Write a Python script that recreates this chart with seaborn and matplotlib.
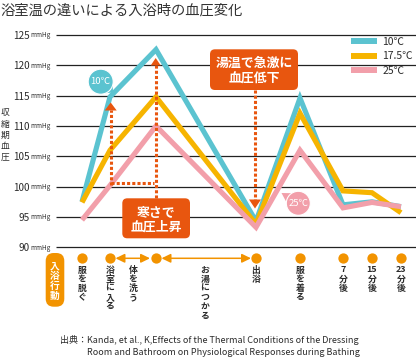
import numpy as np
import pandas as pd
import matplotlib
matplotlib.use("Agg")
import matplotlib.pyplot as plt
import seaborn as sns
from matplotlib.patches import FancyBboxPatch, Circle, Polygon
from matplotlib.lines import Line2D

# ---------------- data ----------------
point_names = ["服を脱ぐ", "浴室に入る", "入湯", "出浴", "服を着る", "7分後", "15分後", "23分後"]
bp_10 = [97.5, 114.8, 122.6, 94.3, 114.6, 97.0, 97.5, 96.7]
bp_175 = [97.4, 106.0, 114.8, 93.8, 112.1, 99.3, 99.0, 95.7]
bp_25 = [94.5, 100.2, 110.0, 93.3, 106.0, 96.5, 97.4, 96.7]
series_labels = ["10℃", "17.5℃", "25℃"]
yticks = [90, 95, 100, 105, 110, 115, 120, 125]
action_labels = ["服を脱ぐ", "浴室に入る", "体を洗う", "お湯につかる", "出浴", "服を着る", "7分後", "15分後", "23分後"]

# layout (x positions along the time axis, in figure pixels)
x_pos = [82, 110, 156, 256, 300, 343, 372, 401]
action_x = [82, 110, 133, 205, 256, 300, 343, 372, 401]

W, H = 416, 359
sns.set_theme(style="white")
plt.rcParams["font.family"] = ["Noto Sans CJK JP", "DejaVu Sans"]

colors = ["#5BC3D0", "#F6B400", "#F29FAA"]
orange = "#E8560F"
dot_orange = "#F29300"
txt = "#2b2b2b"

df = pd.DataFrame({
    "x": x_pos * 3,
    "bp": bp_10 + bp_175 + bp_25,
    "temp": [series_labels[0]] * len(x_pos) + [series_labels[1]] * len(x_pos) + [series_labels[2]] * len(x_pos),
})

fig = plt.figure(figsize=(W / 100, H / 100), dpi=100)
y90, y125 = 247.3, 35.0
ax = fig.add_axes([56 / W, (H - y90) / H, (W - 56) / W, (y90 - y125) / H])
ax.set_xlim(56, W)
ax.set_ylim(90, 125)

for v in yticks:
    ax.axhline(v, color="#222222", lw=0.9, clip_on=False, zorder=1)

sns.lineplot(data=df, x="x", y="bp", hue="temp", hue_order=series_labels,
             palette=colors, linewidth=3.7, ax=ax, legend=False, zorder=3,
             sort=False)
for ln in ax.lines:
    ln.set_solid_joinstyle("miter")
    ln.set_solid_capstyle("butt")

ax.set_yticks(yticks)
ax.set_yticklabels([str(v) for v in yticks], fontsize=7.2, color=txt)
ax.tick_params(axis="y", length=0, pad=18.8)
ax.set_xticks([])
ax.set_xlabel("")
ax.set_ylabel("")
for s in ax.spines.values():
    s.set_visible(False)
ax.patch.set_alpha(0)

# legend
handles = [Line2D([0], [0], color=c, lw=4.3, solid_capstyle="butt") for c in colors]
leg = ax.legend(handles, series_labels, loc="upper left",
                bbox_to_anchor=(351 / W, 1 - 37 / H), bbox_transform=fig.transFigure,
                frameon=False, fontsize=7.5, handlelength=2.5, handletextpad=0.5,
                labelspacing=0.42, borderpad=0, borderaxespad=0)
for t in leg.get_texts():
    t.set_color(txt)

# ---------------- overlay in pixel coordinates ----------------
ov = fig.add_axes([0, 0, 1, 1], zorder=5)
ov.set_xlim(0, W)
ov.set_ylim(H, 0)
ov.axis("off")
ov.patch.set_alpha(0)

# mmHg units
for v in yticks:
    yy = y90 - (v - 90) * (y90 - y125) / 35
    ov.text(51, yy + 0.3, "mmHg", fontsize=4.6, color=txt, ha="right", va="center")

# title
ov.text(0, 11, "浴室温の違いによる入浴時の血圧変化", fontsize=10.3, color="#333333",
        ha="left", va="center")

# vertical y label
for i, ch in enumerate("収縮期血圧"):
    ov.text(5, 113 + i * 11.1, ch, fontsize=6.3, color=txt, ha="center", va="center")

# dotted arrows
dot_kw = dict(color=orange, lw=2.2, linestyle=(0, (1, 0.7)), solid_capstyle="butt")
ov.plot([110.7, 110.7], [185, 110], **dot_kw)
ov.plot([110.7, 154], [183.3, 183.3], **dot_kw)
ov.plot([155.7, 155.7], [198, 65], **dot_kw)
ov.plot([255, 255], [90, 200], **dot_kw)
ov.add_patch(Polygon([[104.7, 110.5], [116.7, 110.5], [110.7, 102.5]], closed=True, color=orange, lw=0))
ov.add_patch(Polygon([[150.7, 65.5], [160.7, 65.5], [155.7, 58]], closed=True, color=orange, lw=0))
ov.add_patch(Polygon([[249, 199.5], [261, 199.5], [255, 208.5]], closed=True, color=orange, lw=0))

# orange boxes
def rbox(x0, y0, x1, y1):
    ov.add_patch(FancyBboxPatch((x0, y0), x1 - x0, y1 - y0,
                                boxstyle="round,pad=0,rounding_size=5",
                                fc=orange, ec="none", zorder=6))

rbox(210, 49.3, 298, 90)
ov.text(254, 63.3, "湯温で急激に", fontsize=9.3, fontweight="bold", color="white",
        ha="center", va="center", zorder=7)
ov.text(254, 78.3, "血圧低下", fontsize=9.3, fontweight="bold", color="white",
        ha="center", va="center", zorder=7)
rbox(122.3, 198.3, 190, 238.3)
ov.text(156, 212.7, "寒さで", fontsize=9.3, fontweight="bold", color="white",
        ha="center", va="center", zorder=7)
ov.text(156, 226.7, "血圧上昇", fontsize=9.3, fontweight="bold", color="white",
        ha="center", va="center", zorder=7)

# bubbles
def bubble(cx, cy, r, tail, color, label):
    ang = np.arctan2(tail[1] - cy, tail[0] - cx)
    a1, a2 = ang + 0.45, ang - 0.45
    ov.add_patch(Polygon([[cx + r * np.cos(a1), cy + r * np.sin(a1)], tail,
                          [cx + r * np.cos(a2), cy + r * np.sin(a2)]],
                         closed=True, fc=color, ec="none", zorder=6))
    ov.add_patch(Circle((cx, cy), r, fc=color, ec="white", lw=0.8, zorder=6))
    ov.text(cx, cy, label, fontsize=6.8, color="white", ha="center", va="center", zorder=7)

bubble(100.7, 81.7, 12.5, (113, 92.5), colors[0], "10℃")
bubble(298.3, 203.3, 12, (281.5, 193), colors[2], "25℃")

# bottom action row
dot_y = 258.3
ov.scatter(x_pos, [dot_y] * len(x_pos), s=55, color=dot_orange, lw=0, zorder=6)
arr_kw = dict(arrowstyle="<|-|>,head_length=0.45,head_width=0.22", color=dot_orange, lw=1.1,
              shrinkA=0, shrinkB=0)
ov.annotate("", xy=(150, dot_y), xytext=(115.5, dot_y), arrowprops=arr_kw)
ov.annotate("", xy=(251, dot_y), xytext=(161.5, dot_y), arrowprops=arr_kw)

def tokens(s):
    out, buf = [], ""
    for ch in s:
        if ch.isdigit():
            buf += ch
        else:
            if buf:
                out.append(buf)
                buf = ""
            out.append(ch)
    if buf:
        out.append(buf)
    return out

for lab, xx in zip(action_labels, action_x):
    for i, tk in enumerate(tokens(lab)):
        ov.text(xx, 270 + i * 9.2, tk, fontsize=6.4, color=txt, fontweight="bold",
                ha="center", va="center")

# 入浴行動 box
ov.add_patch(FancyBboxPatch((45.7, 253), 18.6, 53.7,
                            boxstyle="round,pad=0,rounding_size=8",
                            fc=dot_orange, ec="none", zorder=6))
for i, ch in enumerate("入浴行動"):
    ov.text(55, 266.7 + i * 9.7, ch, fontsize=7, fontweight="bold", color="white",
            ha="center", va="center", zorder=7)

# source
ov.text(60, 340, "出典：Kanda, et al., K,Effects of the Thermal Conditions of the Dressing",
        fontsize=6.5, color=txt, ha="left", va="center")
ov.text(87, 352.5, "Room and Bathroom on Physiological Responses during Bathing",
        fontsize=6.5, color=txt, ha="left", va="center")

fig.savefig("out.png", dpi=100)
